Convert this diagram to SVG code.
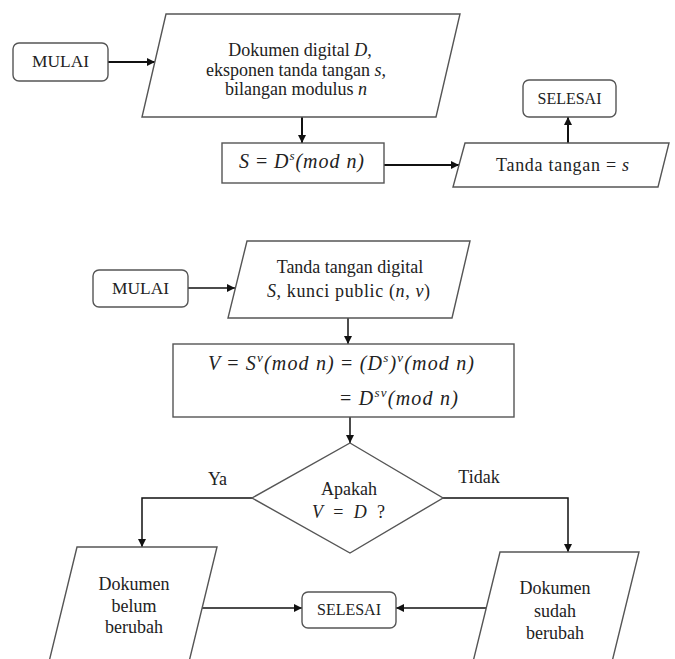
<svg xmlns="http://www.w3.org/2000/svg" width="675" height="659" viewBox="0 0 675 659">
<defs>
<marker id="ah2" viewBox="0 0 10 10" refX="10" refY="5" markerWidth="8" markerHeight="8" orient="auto" markerUnits="userSpaceOnUse">
<path d="M0,0 L10,5 L0,10 z" fill="#111"/>
</marker>
<style>
.shape{fill:#fff;stroke:#555;stroke-width:1.4}
.t{font-family:'Liberation Serif','Tinos','Times New Roman','DejaVu Serif',serif;font-size:18px;fill:#222;text-anchor:middle}
.s{font-size:17px}
.m{font-size:20px}
.i{font-style:italic}
.up{font-style:normal}
.sup{font-size:13px;font-style:italic}
.c{fill:none;stroke:#111;stroke-width:2}
.c2{fill:none;stroke:#111;stroke-width:1.5}
</style>
</defs>
<rect width="675" height="659" fill="#fff"/>

<g id="connectors">
<line class="c" x1="108" y1="62" x2="155" y2="62" marker-end="url(#ah2)"/>
<line class="c" x1="302" y1="117" x2="302" y2="143" marker-end="url(#ah2)"/>
<line class="c" x1="384" y1="165" x2="459" y2="165" marker-end="url(#ah2)"/>
<line class="c" x1="568" y1="143" x2="568" y2="117" marker-end="url(#ah2)"/>
<line class="c2" x1="188" y1="288" x2="235" y2="288" marker-end="url(#ah2)"/>
<line class="c2" x1="348" y1="318" x2="348" y2="344" marker-end="url(#ah2)"/>
<line class="c2" x1="350" y1="417" x2="350" y2="443" marker-end="url(#ah2)"/>
<polyline class="c2" points="252,498 142,498 142,547" marker-end="url(#ah2)"/>
<polyline class="c2" points="443,498 568,498 568,552" marker-end="url(#ah2)"/>
<line class="c2" x1="202" y1="608" x2="302" y2="608" marker-end="url(#ah2)"/>
<line class="c2" x1="486" y1="608" x2="396" y2="608" marker-end="url(#ah2)"/>
</g>

<g id="mulai1">
<rect class="shape" x="13" y="43" width="95" height="38" rx="6"/>
<text class="t s" x="60.5" y="67" textLength="57" lengthAdjust="spacingAndGlyphs">MULAI</text>
</g>

<g id="input1">
<polygon class="shape" points="166,14 460,14 436,117 142,117"/>
<text class="t" x="300" y="56">Dokumen digital <tspan class="i">D</tspan>,</text>
<text class="t" x="296" y="75.5">eksponen tanda tangan <tspan class="i">s</tspan>,</text>
<text class="t" x="296" y="95">bilangan modulus <tspan class="i">n</tspan></text>
</g>

<g id="proc1">
<rect class="shape" x="222" y="143" width="162" height="40"/>
<text class="t i m" x="301.5" y="168" textLength="125">S <tspan class="up">=</tspan> D<tspan class="sup" dy="-8">s</tspan><tspan dy="8">(mod n)</tspan></text>
</g>

<g id="output1">
<polygon class="shape" points="465,143 669,143 658,187 453,187"/>
<text class="t" x="562.5" y="171" textLength="133">Tanda tangan = <tspan class="i">s</tspan></text>
</g>

<g id="selesai1">
<rect class="shape" x="523" y="80" width="93" height="37" rx="6"/>
<text class="t s" x="569.5" y="104" textLength="64" lengthAdjust="spacingAndGlyphs">SELESAI</text>
</g>

<g id="mulai2">
<rect class="shape" x="93" y="270" width="95" height="37" rx="6"/>
<text class="t s" x="140.5" y="294" textLength="57" lengthAdjust="spacingAndGlyphs">MULAI</text>
</g>

<g id="input2">
<polygon class="shape" points="247,241 470,241 452,318 228,318"/>
<text class="t" x="350" y="273">Tanda tangan digital</text>
<text class="t" x="348.5" y="297" textLength="163"><tspan class="i">S</tspan>, kunci public (<tspan class="i">n</tspan>, <tspan class="i">v</tspan>)</text>
</g>

<g id="proc2">
<rect class="shape" x="173" y="344" width="341" height="73"/>
<text class="t i m" x="341" y="370" textLength="266">V <tspan class="up">=</tspan> S<tspan class="sup" dy="-8">v</tspan><tspan dy="8">(mod n) </tspan><tspan class="up">=</tspan> (D<tspan class="sup" dy="-8">s</tspan><tspan dy="8">)</tspan><tspan class="sup" dy="-8">v</tspan><tspan dy="8">(mod n)</tspan></text>
<text class="t i m" x="399" y="405" textLength="118"><tspan class="up">=</tspan> D<tspan class="sup" dy="-8">sv</tspan><tspan dy="8">(mod n)</tspan></text>
</g>

<g id="decision">
<polygon class="shape" points="350,443 443,498 350,553 252,498"/>
<text class="t" x="349" y="495">Apakah</text>
<text class="t" x="348.5" y="518" textLength="73"><tspan class="i">V</tspan> = <tspan class="i">D</tspan> ?</text>
</g>

<g id="labels">
<text class="t" x="217.5" y="485">Ya</text>
<text class="t" x="479" y="483">Tidak</text>
</g>

<g id="out-belum">
<polygon class="shape" points="77,547 217,547 188,666 48,666"/>
<text class="t" x="134" y="590">Dokumen</text>
<text class="t" x="134" y="612">belum</text>
<text class="t" x="134" y="633">berubah</text>
</g>

<g id="out-sudah">
<polygon class="shape" points="500,552 639,552 611,666 472,666"/>
<text class="t" x="555" y="594">Dokumen</text>
<text class="t" x="555" y="617">sudah</text>
<text class="t" x="555" y="639">berubah</text>
</g>

<g id="selesai2">
<rect class="shape" x="302" y="592" width="94" height="36" rx="6"/>
<text class="t s" x="349" y="615" textLength="64" lengthAdjust="spacingAndGlyphs">SELESAI</text>
</g>
</svg>
